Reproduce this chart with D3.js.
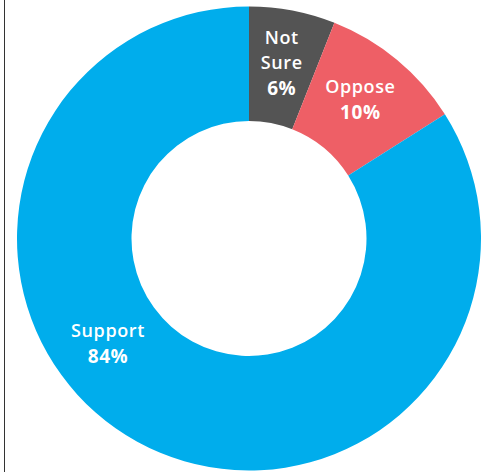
<!DOCTYPE html>
<html>
<head>
<meta charset="utf-8">
<script src="https://cdn.jsdelivr.net/npm/d3@7"></script>
<style>
  html, body { margin: 0; padding: 0; background: #fff; }
  svg { display: block; }
</style>
</head>
<body>
<svg id="chart" width="487" height="472"></svg>
<script>
const categories = ["Not Sure", "Oppose", "Support"];
const values = [6, 10, 84];
const nameLines = [["Not", "Sure"], ["Oppose"], ["Support"]];
const colors = ["#545454", "#EE5F66", "#00ADEC"];

const W = 487, H = 472;
const cx = 249, cy = 238.5;
const outerR = 232, innerR = 117.5;

const svg = d3.select("#chart");

// left frame line
svg.append("line")
  .attr("x1", 4.5).attr("x2", 4.5)
  .attr("y1", 0).attr("y2", H)
  .attr("stroke", "#333").attr("stroke-width", 1);

const g = svg.append("g").attr("transform", `translate(${cx},${cy})`);

const data = categories.map((c, i) => ({ name: c, value: values[i], lines: nameLines[i], color: colors[i] }));

const pie = d3.pie().value(d => d.value).sort(null);
const arcs = pie(data);
const arc = d3.arc().innerRadius(innerR).outerRadius(outerR);

g.selectAll("path").data(arcs).enter().append("path")
  .attr("d", arc)
  .attr("fill", d => d.data.color);

const lineH = 25.5;

arcs.forEach((a, i) => {
  let pos;
  if (a.data.name === "Support") {
    // label sits higher up on the left side of the ring
    const ang = 232.3 * Math.PI / 180;
    const r = 178.2;
    pos = [r * Math.sin(ang), -r * Math.cos(ang)];
  } else {
    pos = arc.centroid(a);
  }
  const lines = a.data.lines.map(t => ({ t, bold: false }))
    .concat([{ t: a.data.value + "%", bold: true }]);
  const n = lines.length;
  const text = g.append("text")
    .attr("text-anchor", "middle")
    .attr("fill", "#fff")
    .style("font-family", "'Open Sans', sans-serif")
    .style("letter-spacing", "0.6px");
  lines.forEach((l, k) => {
    text.append("tspan")
      .attr("x", pos[0])
      .attr("y", pos[1] + (k - (n - 1) / 2) * lineH)
      .attr("dy", "0.12em")
      .style("font-size", l.bold ? "19px" : "18px")
      .style("font-weight", l.bold ? 700 : 600)
      .text(l.t);
  });
});
</script>
</body>
</html>
